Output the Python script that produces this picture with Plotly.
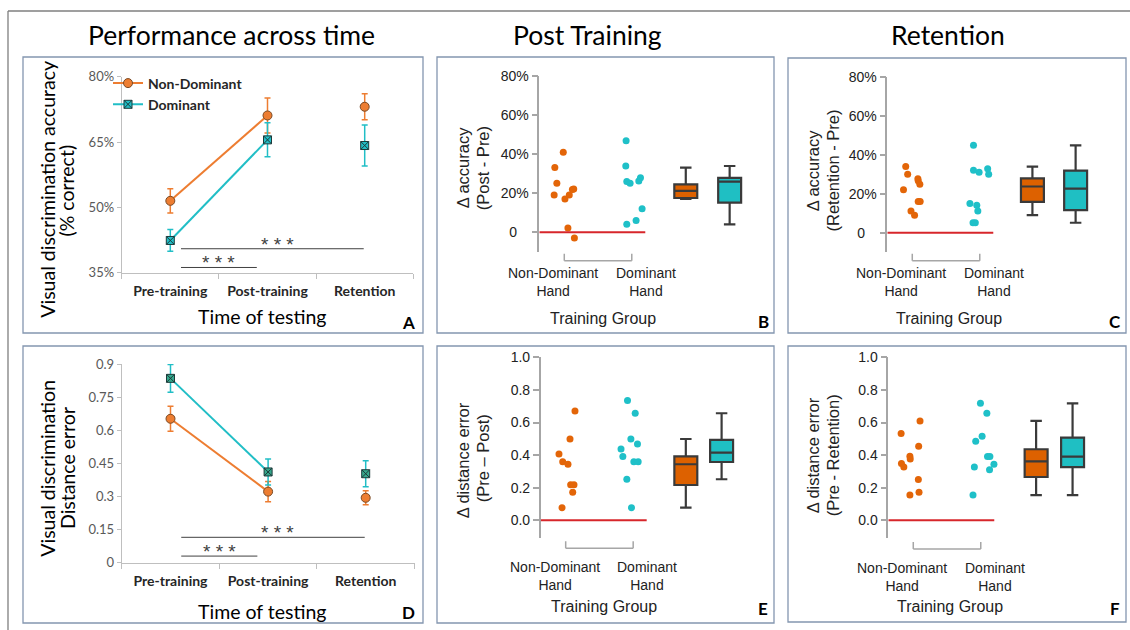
import plotly.graph_objects as go

# ---------------- data ----------------
categories = ["Pre-training", "Post-training", "Retention"]
series_names = ["Non-Dominant", "Dominant"]

acc_nd_mean = [51.5, 71.1, 73.1]
acc_nd_err = [2.8, 4.0, 3.0]
acc_d_mean = [42.4, 65.5, 64.2]
acc_d_err = [2.5, 3.9, 4.7]

dist_nd_mean = [0.652, 0.322, 0.294]
dist_nd_err = [0.057, 0.046, 0.032]
dist_d_mean = [0.835, 0.411, 0.403]
dist_d_err = [0.063, 0.059, 0.059]

# significance bars: (start idx, end idx, level)
acc_sig = [(0.11, 1.99, 40.5), (0.11, 0.89, 36.2)]
dist_sig = [(0.11, 1.99, 0.115), (0.11, 0.89, 0.030)]
sig_label = "* * *"

group_labels = ["Non-Dominant<br>Hand", "Dominant<br>Hand"]

# Panel B: delta accuracy (post - pre)
b_nd_vals = [41.0, 33.2, 25.1, 22.2, 22.0, 19.1, 19.1, 17.1, 2.2, -2.9]
b_nd_jit = [-0.015, -0.14, -0.11, 0.14, 0.12, -0.15, 0.074, 0.01, 0.054, 0.15]
b_d_vals = [47.0, 34.0, 26.1, 25.1, 28.0, 26.3, 12.1, 6.0, 4.1]
b_d_jit = [-0.084, -0.089, -0.074, -0.025, 0.129, 0.104, 0.153, 0.064, -0.074]
b_nd_box = [17.1, 17.6, 21.2, 24.6, 33.2]   # low, q1, median, q3, high
b_d_box = [4.1, 15.2, 26.0, 27.9, 34.0]

# Panel C: delta accuracy (retention - pre)
c_nd_vals = [33.9, 30.0, 27.7, 26.7, 24.8, 22.0, 16.0, 16.0, 11.1, 9.0]
c_nd_jit = [-0.097, -0.068, 0.083, 0.088, 0.112, -0.13, 0.088, 0.117, -0.019, 0.034]
c_d_vals = [44.8, 32.0, 31.0, 32.8, 30.0, 15.0, 14.1, 11.1, 5.1, 5.1]
c_d_jit = [-0.093, -0.093, -0.01, 0.117, 0.132, -0.146, -0.044, -0.029, -0.1, -0.066]
c_nd_box = [9.0, 15.8, 23.7, 27.9, 33.9]
c_d_box = [5.1, 11.6, 22.6, 31.8, 44.8]

# Panel E: delta distance error (pre - post)
e_nd_vals = [0.671, 0.499, 0.407, 0.360, 0.344, 0.219, 0.219, 0.172, 0.078]
e_nd_jit = [0.138, 0.064, -0.099, -0.044, 0.034, 0.074, 0.123, 0.104, -0.054]
e_d_vals = [0.735, 0.657, 0.499, 0.469, 0.438, 0.391, 0.360, 0.360, 0.252, 0.078]
e_d_jit = [-0.084, 0.03, -0.034, 0.064, -0.18, -0.153, 0.01, 0.074, -0.094, -0.025]
e_nd_box = [0.078, 0.217, 0.344, 0.393, 0.499]
e_d_box = [0.252, 0.358, 0.415, 0.493, 0.657]

# Panel F: delta distance error (pre - retention)
f_nd_vals = [0.610, 0.532, 0.454, 0.393, 0.376, 0.348, 0.327, 0.250, 0.155, 0.172]
f_nd_jit = [0.1, -0.18, 0.08, -0.05, -0.045, -0.175, -0.14, 0.075, -0.05, 0.085]
f_d_vals = [0.718, 0.657, 0.516, 0.485, 0.391, 0.391, 0.327, 0.344, 0.311, 0.155]
f_d_jit = [-0.005, 0.09, 0.02, -0.075, 0.1, 0.135, -0.095, 0.195, 0.13, -0.115]
f_nd_box = [0.155, 0.266, 0.362, 0.436, 0.610]
f_d_box = [0.155, 0.327, 0.391, 0.507, 0.718]

acc_ticks = [0, 20, 40, 60, 80]
acc_ticktext = ["0   ", "20%", "40%", "60%", "80%"]
dist_ticks = [0, 0.2, 0.4, 0.6, 0.8, 1.0]

# ---------------- styling / layout helpers ----------------
W, H = 1130, 630
def PX(x): return x / W
def PY(y): return 1 - y / H

CAL = "Lato, 'Open Sans', sans-serif"
ARI = "'Liberation Sans', Arial, sans-serif"
ORANGE_L = "#ED7D31"
TEAL_L = "#21BEC6"
ORANGE_D = "#E36508"
TEAL_D = "#1FC0C8"
BOXLINE = "#3a3a3a"
AXG = "#a6a6a6"

fig = go.Figure()

# ---- Panel A (xaxis/yaxis) & D (xaxis4/yaxis4) ----
def add_time_panel(xa, ya, nd_m, nd_e, d_m, d_e, d_fill, legend):
    fig.add_trace(go.Scatter(
        x=categories[:2], y=nd_m[:2], mode="lines+markers", name="<b>" + series_names[0] + "</b>",
        line=dict(color=ORANGE_L, width=2),
        marker=dict(symbol="circle", size=9, color=ORANGE_L, line=dict(color="#7a4a25", width=1)),
        error_y=dict(type="data", array=nd_e[:2], color=ORANGE_L, thickness=1.5, width=3),
        xaxis=xa, yaxis=ya, showlegend=legend, legendrank=1))
    fig.add_trace(go.Scatter(
        x=categories[2:], y=nd_m[2:], mode="markers",
        marker=dict(symbol="circle", size=9, color=ORANGE_L, line=dict(color="#7a4a25", width=1)),
        error_y=dict(type="data", array=nd_e[2:], color=ORANGE_L, thickness=1.5, width=3),
        xaxis=xa, yaxis=ya, showlegend=False))
    fig.add_trace(go.Scatter(
        x=categories[:2], y=d_m[:2], mode="lines+markers", name="<b>" + series_names[1] + "</b>",
        line=dict(color=TEAL_L, width=2),
        marker=dict(symbol="square-x", size=8, color=d_fill, line=dict(color="#1d3a3a", width=1)),
        error_y=dict(type="data", array=d_e[:2], color=TEAL_L, thickness=1.5, width=3),
        xaxis=xa, yaxis=ya, showlegend=legend, legendrank=2))
    fig.add_trace(go.Scatter(
        x=categories[2:], y=d_m[2:], mode="markers",
        marker=dict(symbol="square-x", size=8, color=d_fill, line=dict(color="#1d3a3a", width=1)),
        error_y=dict(type="data", array=d_e[2:], color=TEAL_L, thickness=1.5, width=3),
        xaxis=xa, yaxis=ya, showlegend=False))

add_time_panel("x", "y", acc_nd_mean, acc_nd_err, acc_d_mean, acc_d_err, TEAL_L, True)
add_time_panel("x4", "y4", dist_nd_mean, dist_nd_err, dist_d_mean, dist_d_err, "#35A88C", False)

shapes = []
annotations = []

for xa, ya, sig in (("x", "y", acc_sig), ("x4", "y4", dist_sig)):
    for (x0, x1, lv) in sig:
        shapes.append(dict(type="line", xref=xa, yref=ya, x0=x0, x1=x1, y0=lv, y1=lv,
                           line=dict(color="#404040", width=1)))
        annotations.append(dict(xref=xa, yref=ya, x=(x0 + x1) / 2 + 0.05 * (x1 > 1.5), y=lv, text=sig_label,
                                showarrow=False, yanchor="bottom", yshift=-8,
                                font=dict(family=ARI, size=19, color="#404040")))

# ---- Panels B, C, E, F ----
def add_group_panel(n, nd_vals, nd_jit, d_vals, d_jit, nd_box, d_box, box_pos):
    xa, ya = "x%d" % n, "y%d" % n
    fig.add_trace(go.Scatter(x=[1 + j for j in nd_jit], y=nd_vals, mode="markers",
                             marker=dict(color=ORANGE_D, size=7), xaxis=xa, yaxis=ya, showlegend=False))
    fig.add_trace(go.Scatter(x=[2 + j for j in d_jit], y=d_vals, mode="markers",
                             marker=dict(color=TEAL_D, size=7), xaxis=xa, yaxis=ya, showlegend=False))
    for stats, pos, fill in ((nd_box, box_pos[0], "#DD6100"), (d_box, box_pos[1], "#1FBFC3")):
        fig.add_trace(go.Box(x=[pos], lowerfence=[stats[0]], q1=[stats[1]], median=[stats[2]],
                             q3=[stats[3]], upperfence=[stats[4]], orientation="v",
                             width=0.34, whiskerwidth=0.5, fillcolor=fill,
                             line=dict(color=BOXLINE, width=2.2), boxpoints=False,
                             xaxis=xa, yaxis=ya, showlegend=False, hoverinfo="skip"))

add_group_panel(2, b_nd_vals, b_nd_jit, b_d_vals, b_d_jit, b_nd_box, b_d_box, (2.80, 3.45))
add_group_panel(3, c_nd_vals, c_nd_jit, c_d_vals, c_d_jit, c_nd_box, c_d_box, (2.78, 3.42))
add_group_panel(5, e_nd_vals, e_nd_jit, e_d_vals, e_d_jit, e_nd_box, e_d_box, (2.78, 3.31))
add_group_panel(6, f_nd_vals, f_nd_jit, f_d_vals, f_d_jit, f_nd_box, f_d_box, (2.82, 3.36))

XR = [0.63, 3.8]
UNIT = 67.5

def grp_x(left_px):
    return [PX(left_px), PX(left_px + (XR[1] - XR[0]) * UNIT)]

lay = dict(
    width=W, height=H, margin=dict(l=0, r=0, t=0, b=0, pad=0, autoexpand=False),
    paper_bgcolor="white", plot_bgcolor="rgba(0,0,0,0)",
    showlegend=True,
    legend=dict(x=PX(108), y=PY(67.5), xanchor="left", yanchor="top", bgcolor="rgba(0,0,0,0)",
                font=dict(family=CAL, size=14, color="#262626"), itemwidth=30, tracegroupgap=0),
)

time_x = dict(type="category", categoryorder="array", categoryarray=categories, range=[-0.5, 2.5],
              tickson="boundaries", ticks="outside", ticklen=5, tickcolor="#bfbfbf",
              showline=True, linecolor="#bfbfbf", linewidth=1, showgrid=False, zeroline=False,
              ticklabelstandoff=5,
              tickfont=dict(family=CAL, size=14, color="#262626", weight="bold"), fixedrange=True)
lay["xaxis"] = dict(time_x, domain=[PX(121.7), PX(413.3)], anchor="y")
lay["yaxis"] = dict(domain=[PY(272.7), PY(76.7)], range=[35, 80], anchor="x",
                    tickvals=[35, 50, 65, 80], ticktext=["35%", "50%", "65%", "80%"],
                    ticks="outside", ticklen=4, tickcolor="#bfbfbf", showline=True, linecolor="#bfbfbf",
                    showgrid=False, zeroline=False, tickfont=dict(family=CAL, size=13, color="#595959"))
lay["xaxis4"] = dict(time_x, domain=[PX(121.7), PX(414.5)], anchor="y4")
lay["yaxis4"] = dict(domain=[PY(562.7), PY(364)], range=[0, 0.9], anchor="x4",
                     tickvals=[0, 0.15, 0.3, 0.45, 0.6, 0.75, 0.9],
                     ticktext=["0", "0.15", "0.3", "0.45", "0.6", "0.75", "0.9"],
                     ticks="outside", ticklen=4, tickcolor="#bfbfbf", showline=True, linecolor="#bfbfbf",
                     showgrid=False, zeroline=False, tickfont=dict(family=CAL, size=13, color="#595959"))

grp_common_x = dict(range=XR, showline=False, showticklabels=False, ticks="", showgrid=False,
                    zeroline=False, fixedrange=True)
grp_common_y = dict(ticks="outside", ticklen=6, tickcolor=AXG, tickwidth=1.5, showline=True, linecolor=AXG,
                    linewidth=1.5, showgrid=False, zeroline=False,
                    tickfont=dict(family=ARI, size=14, color="#222222"))

panels = {
    2: dict(left=539.3, ytop=76.3, ybot=251.8, yr=[-10, 80], tv=acc_ticks, tt=acc_ticktext, br=260.7, lab=282.3),
    3: dict(left=887.3, ytop=76.7, ybot=252.2, yr=[-10, 80], tv=acc_ticks, tt=acc_ticktext, br=260.7, lab=282.3),
    5: dict(left=540.7, ytop=357.3, ybot=538.3, yr=[-0.11, 1.0], tv=dist_ticks, tt=["%.1f" % v for v in dist_ticks], br=548.3, lab=575.5),
    6: dict(left=888.3, ytop=357.3, ybot=538.3, yr=[-0.11, 1.0], tv=dist_ticks, tt=["%.1f" % v for v in dist_ticks], br=549.0, lab=577.0),
}
for n, p in panels.items():
    lay["xaxis%d" % n] = dict(grp_common_x, domain=grp_x(p["left"]), anchor="y%d" % n)
    lay["yaxis%d" % n] = dict(grp_common_y, domain=[PY(p["ybot"]), PY(p["ytop"])], range=p["yr"],
                              tickvals=p["tv"], ticktext=p["tt"], anchor="x%d" % n)
    xa, ya = "x%d" % n, "y%d" % n
    shapes.append(dict(type="line", xref=xa, yref=ya, x0=XR[0], x1=2.2, y0=0, y1=0,
                       line=dict(color="#D7262B", width=2)))
    shapes.append(dict(type="line", xref=xa, yref="paper", x0=1, x1=2, y0=PY(p["br"]), y1=PY(p["br"]),
                       line=dict(color=AXG, width=1.5)))
    for xv in (1, 2):
        shapes.append(dict(type="line", xref=xa, yref="paper", x0=xv, x1=xv, y0=PY(p["br"]),
                           y1=PY(p["br"] - 7), line=dict(color=AXG, width=1.5)))
    for xv, t in zip((0.84, 2.21), group_labels):
        annotations.append(dict(xref=xa, yref="paper", x=xv, y=PY(p["lab"]), text=t, showarrow=False,
                                xanchor="center", yanchor="middle",
                                font=dict(family=ARI, size=14, color="#222222")))

# ---- panel frames ----
frame_col = "#8496B0"
for (x0, y0, x1, y1) in [(23, 57, 423, 333), (23, 346, 423, 623), (437, 57, 774, 333),
                         (437, 346, 774, 623), (788, 58, 1126, 333), (788, 346, 1126, 622)]:
    shapes.append(dict(type="rect", xref="paper", yref="paper", x0=PX(x0), x1=PX(x1), y0=PY(y1), y1=PY(y0),
                       line=dict(color=frame_col, width=1.3), layer="below"))
shapes.append(dict(type="line", xref="paper", yref="paper", x0=PX(8), x1=PX(1130), y0=PY(11), y1=PY(11),
                   line=dict(color="#7f7f7f", width=1.3)))
shapes.append(dict(type="line", xref="paper", yref="paper", x0=PX(8), x1=PX(8), y0=PY(11), y1=0,
                   line=dict(color="#7f7f7f", width=1.3)))

def txt(x, y, text, family, size, color="#000000", angle=0, bold=False, xanchor="center"):
    annotations.append(dict(xref="paper", yref="paper", x=PX(x), y=PY(y), text=("<b>%s</b>" % text) if bold else text,
                            showarrow=False, xanchor=xanchor, yanchor="middle", textangle=angle,
                            font=dict(family=family, size=size, color=color)))

txt(231.7, 35, "Performance across time", CAL, 26.5)
txt(587, 35, "Post Training", CAL, 26.5)
txt(947.5, 35, "Retention", CAL, 26.5)

txt(46.7, 189, "Visual discrimination accuracy", CAL, 19.5, angle=-90)
txt(65.5, 191, "(% correct)", CAL, 19.5, angle=-90)
txt(261.7, 316.7, "Time of testing", CAL, 19.5)
txt(46.7, 468, "Visual discrimination", CAL, 19.5, angle=-90)
txt(67, 468, "Distance error", CAL, 19.5, angle=-90)
txt(261.7, 611.7, "Time of testing", CAL, 19.5)

txt(463.3, 168, "\u0394 accuracy", ARI, 16.5, "#222222", angle=-90)
txt(483.3, 168, "(Post - Pre)", ARI, 16.5, "#222222", angle=-90)
txt(813.3, 171, "\u0394 accuracy", ARI, 16.5, "#222222", angle=-90)
txt(832.5, 171, "(Retention - Pre)", ARI, 16.5, "#222222", angle=-90)
txt(463.3, 460, "\u0394 distance error", ARI, 16.5, "#222222", angle=-90)
txt(483.3, 458, "(Pre \u2013 Post)", ARI, 16.5, "#222222", angle=-90)
txt(813.3, 455, "\u0394 distance error", ARI, 16.5, "#222222", angle=-90)
txt(833.3, 455, "(Pre - Retention)", ARI, 16.5, "#222222", angle=-90)
for (x, y) in [(602.7, 318.3), (949.3, 318.3), (604, 606), (950, 606.7)]:
    txt(x, y, "Training Group", ARI, 16, "#222222")

for (x, y, l) in [(409, 322.7, "A"), (763.3, 321.7, "B"), (1115, 321.7, "C"),
                  (409, 612.7, "D"), (762.7, 608.3, "E"), (1115, 608.3, "F")]:
    txt(x, y, l, CAL, 17, bold=True)

lay["shapes"] = shapes
lay["annotations"] = annotations
fig.update_layout(**lay)
fig.write_html("out.html", config={"displayModeBar": False},
               post_script="document.body.style.margin='0';document.body.style.overflow='hidden';")
